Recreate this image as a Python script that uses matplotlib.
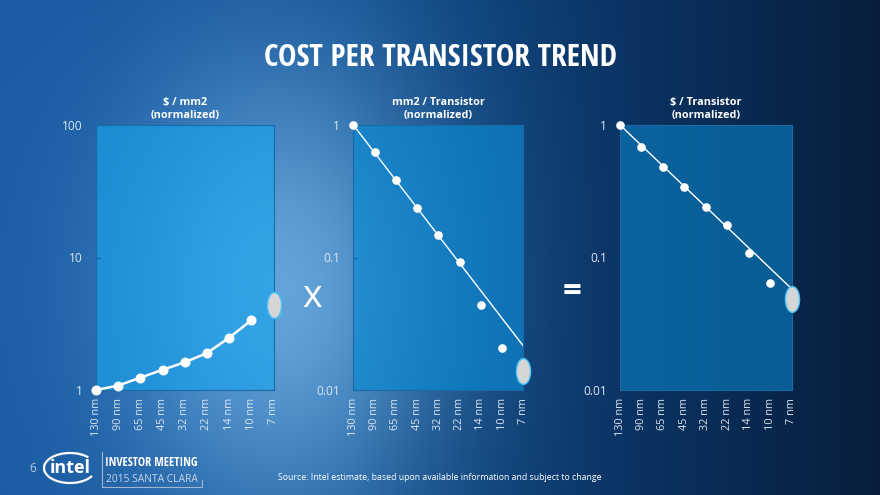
import numpy as np
import matplotlib
matplotlib.use("Agg")
import matplotlib.pyplot as plt
from matplotlib import font_manager as fm
from matplotlib.path import Path
from matplotlib.patches import Arc
from matplotlib.lines import Line2D
from matplotlib.textpath import TextPath

# ---------------- data ----------------
nodes = ["130 nm", "90 nm", "65 nm", "45 nm", "32 nm", "22 nm", "14 nm", "10 nm", "7 nm"]
cost_per_mm2 = [1.0, 1.08, 1.24, 1.42, 1.62, 1.90, 2.48, 3.36]          # 130nm..10nm
cost_per_mm2_7nm = 4.4
area_per_transistor = [1.0, 0.622, 0.385, 0.238, 0.148, 0.092, 0.0436, 0.0209]
area_per_transistor_7nm = 0.0138
area_trend = [1.0, 0.0215]                                             # 130nm -> 7nm
cost_per_transistor = [1.0, 0.682, 0.482, 0.343, 0.242, 0.176, 0.109, 0.0642]
cost_per_transistor_7nm = 0.0483
cost_trend = [1.0, 0.058]

panel_titles = [r"\$ / mm2" + "\n(normalized)", "mm2 / Transistor\n(normalized)",
                r"\$ / Transistor" + "\n(normalized)"]
yticks_1 = [1, 10, 100]
yticklabels_1 = ["1", "10", "100"]
yticks_23 = [0.01, 0.1, 1]
yticklabels_23 = ["0.01", "0.1", "1"]

W, H = 880, 495
fig = plt.figure(figsize=(W / 100, H / 100), dpi=100)

# ---------------- find the narrowest upright bold condensed sans font ----------------
SANS_KEYS = ("Noto Sans", "Open Sans", "Roboto", "Liberation Sans", "DejaVu Sans", "Lato", "Inter")
cond_prop = None
best = None
seen = set()
for f in fm.fontManager.ttflist:
    fname = str(f.fname)
    low = fname.lower()
    nm = f.name
    if fname in seen or f.style != "normal" or "italic" in low or "oblique" in low:
        continue
    if not any(nm.startswith(k) for k in SANS_KEYS):
        continue
    if any(k in nm for k in ("CJK", "Mono", "Serif", "Symbols", "Math")):
        continue
    is_cond = ("condensed" in low or "narrow" in low or "condensed" in nm.lower()
               or "narrow" in nm.lower() or "condensed" in str(f.stretch).lower())
    if not is_cond:
        continue
    w = f.weight if isinstance(f.weight, (int, float)) else {"bold": 700, "normal": 400}.get(str(f.weight), 400)
    if w < 600 or w > 800:
        continue
    seen.add(fname)
    try:
        prop = fm.FontProperties(fname=fname, size=20)
        ext = TextPath((0, 0), "COST PER", prop=prop).get_extents()
        ratio = ext.width / max(ext.height, 1e-6)
    except Exception:
        continue
    if best is None or ratio < best[0]:
        best = (ratio, fname)
if best is not None:
    cond_prop = fm.FontProperties(fname=best[1])


def cond_kw(size):
    if cond_prop is not None:
        p = cond_prop.copy()
        p.set_size(size)
        return dict(fontproperties=p)
    return dict(fontfamily="DejaVu Sans", fontweight="bold", fontsize=size)


# ---------------- background gradient ----------------
xs = np.arange(W)[None, :].repeat(H, 0).astype(float)
ys = np.arange(H)[:, None].repeat(W, 1).astype(float)
stops = [0, 0.40, 0.72, 1.0]
cols = np.array([[0x1a, 0x5c, 0xa4], [0x0e, 0x4c, 0x8e], [0x0a, 0x33, 0x62], [0x08, 0x1e, 0x3c]]) / 255.0
bgimg = np.zeros((H, W, 3))
for c in range(3):
    bgimg[..., c] = np.interp(xs / W, stops, cols[:, c])
glow = np.exp(-((xs - 285) ** 2) / (2 * 115 ** 2) - ((ys - 290) ** 2) / (2 * 170 ** 2))
bgimg += glow[..., None] * np.array([0.32, 0.33, 0.28])[None, None, :]
bgimg = np.clip(bgimg, 0, 1)
bgax = fig.add_axes([0, 0, 1, 1], zorder=-10)
bgax.imshow(bgimg, aspect="auto", extent=(0, W, H, 0), interpolation="bilinear")
bgax.set_xlim(0, W)
bgax.set_ylim(H, 0)
bgax.axis("off")

FONT = ["Open Sans", "DejaVu Sans"]
TICKC = "#dce6f2"

# ellipse marker for the 7 nm estimate
t = np.linspace(0, 2 * np.pi, 60)
ell_path = Path(np.column_stack([0.55 * np.cos(t), np.sin(t)]))


def px_rect(x0, x1, y0, y1):
    return [x0 / W, 1 - y1 / H, (x1 - x0) / W, (y1 - y0) / H]


panels = [
    dict(rect=px_rect(96, 273.5, 125, 390), face="#18a4ee", alpha=0.62,
         ylim=(1, 100), yt=yticks_1, ytl=yticklabels_1),
    dict(rect=px_rect(353.3, 523.3, 125, 390), face="#0a8ad4", alpha=0.66,
         ylim=(0.01, 1), yt=yticks_23, ytl=yticklabels_23),
    dict(rect=px_rect(620, 791.7, 125, 390), face="#0a7fc2", alpha=0.62,
         ylim=(0.01, 1), yt=yticks_23, ytl=yticklabels_23),
]

axes = []
for i, p in enumerate(panels):
    ax = fig.add_axes(p["rect"])
    ax.set_facecolor(p["face"])
    ax.patch.set_alpha(p["alpha"])
    ax.set_yscale("log")
    ax.set_ylim(*p["ylim"])
    ax.set_xlim(0, len(nodes) - 1)
    ax.set_yticks(p["yt"])
    ax.set_yticklabels(p["ytl"])
    ax.minorticks_off()
    ax.set_xticks(range(len(nodes)))
    ax.set_xticklabels(nodes, rotation=90, fontfamily=FONT, fontsize=7.8, color=TICKC)
    for lab in ax.get_yticklabels():
        lab.set_fontfamily(FONT)
        lab.set_fontsize(8.6)
        lab.set_color(TICKC)
    ax.tick_params(axis="y", direction="in", length=3, width=0.8, color="#1a5f98", pad=9.5)
    ax.tick_params(axis="x", length=0, pad=5.5)
    for s in ax.spines.values():
        s.set_color("#1b6aa8")
        s.set_linewidth(0.8)
    ax.set_title(panel_titles[i], fontfamily=FONT, fontsize=7.8, fontweight="bold",
                 color="white", pad=5, linespacing=1.2)
    axes.append(ax)

x_meas = list(range(len(cost_per_mm2)))
x_last = len(nodes) - 1

# panel 1
ax = axes[0]
ax.plot(x_meas, cost_per_mm2, color="white", lw=1.8, marker="o", ms=6.2, mfc="white",
        mec="white", clip_on=False, zorder=5)
# panel 2
ax = axes[1]
ax.plot([0, x_last], area_trend, color="white", lw=1.0, zorder=4)
ax.plot(x_meas, area_per_transistor, ls="none", marker="o", ms=5.2, mfc="white",
        mec="white", clip_on=False, zorder=5)
# panel 3
ax = axes[2]
ax.plot([0, x_last], cost_trend, color="white", lw=1.0, zorder=4)
ax.plot(x_meas, cost_per_transistor, ls="none", marker="o", ms=5.2, mfc="white",
        mec="white", clip_on=False, zorder=5)

for ax, v in zip(axes, [cost_per_mm2_7nm, area_per_transistor_7nm, cost_per_transistor_7nm]):
    ax.plot([x_last], [v], ls="none", marker=ell_path, ms=18.5, mfc="#d6d6d6",
            mec="#4cc4f6", mew=1.0, clip_on=False, zorder=6)


def ftext(x, y, s, **kw):
    return fig.text(x / W, 1 - y / H, s, **kw)


fig.canvas.draw()
renderer = fig.canvas.get_renderer()


def fit_width(txt, target_px, max_size=None):
    bb = txt.get_window_extent(renderer)
    if bb.width > 0:
        s = txt.get_fontsize() * target_px / bb.width
        if max_size is not None:
            s = min(s, max_size)
        txt.set_fontsize(s)


# title (scaled to the reference width, capped at the reference height)
title = ftext(440, 58, "COST PER TRANSISTOR TREND", ha="center", va="center", color="white",
              **cond_kw(25))
fit_width(title, 354, max_size=26)
# operators
ftext(312, 297, "x", ha="center", va="center", color="white", fontfamily=FONT, fontsize=27)
ftext(572.5, 292, "=", ha="center", va="center", color="white", fontfamily=FONT,
      fontweight="bold", fontsize=24)

# footer
ftext(33, 468, "6", ha="center", va="center", color="#b9c8d8", fontfamily=FONT, fontsize=8.5)
ftext(70, 468, "intel", ha="center", va="center", color="white", fontfamily=FONT,
      fontweight="bold", fontsize=13)
bgax.add_patch(Arc((70, 468), 52, 30, theta1=20, theta2=330, color="white", lw=1.6))
inv = ftext(105, 463, "INVESTOR MEETING", ha="left", va="center", color="white", **cond_kw(10.5))
fit_width(inv, 92, max_size=11)
sc = ftext(106, 479, "2015 SANTA CLARA", ha="left", va="center", color="#c8d6e6",
           fontfamily=FONT, fontsize=6.4)
fit_width(sc, 92)
bgax.add_line(Line2D([102, 102, 202, 202], [452, 487, 487, 480], color="#9fb6d0", lw=0.8))
ftext(440, 478, "Source: Intel estimate, based upon available information and subject to change",
      ha="center", va="center", color="white", fontfamily=FONT, fontsize=6.3)

fig.savefig("out.png", dpi=100)
